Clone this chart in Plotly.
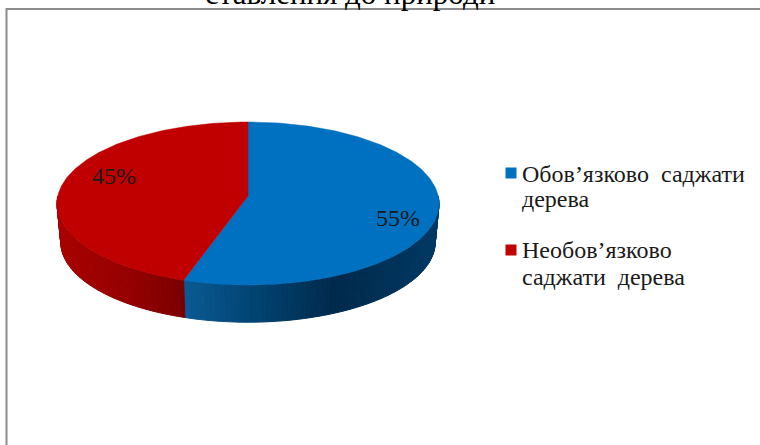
import numpy as np
import plotly.graph_objects as go

categories = [["Обов’язково&nbsp;&nbsp;саджати", "дерева"], ["Необов’язково", "саджати&nbsp;&nbsp;дерева"]]
shares = [55, 45]
colors = ["#0070c0", "#c00000"]
side_stops = [
    [(183, "#0b5a94"), (260, "#00426f"), (335, "#002a4c"), (400, "#00335a"), (440, "#003a66")],
    [(58, "#a80000"), (130, "#950000"), (183, "#7a0000")],
]
title_text = "ставлення до природи"

cx, cy = 248, 196
A, a, c = 190.2, 80.8, 0.092
depth = 39
shrink = 0.98


def project(t, s=1.0, dy=0):
    u, v = np.sin(t), np.cos(t)
    k = 1 + c * v
    return cx + s * A * u / k, cy - s * a * v / k + dy


def side_color(stops, x):
    xs = [p[0] for p in stops]
    rgb = [[int(p[1][i:i + 2], 16) for p in stops] for i in (1, 3, 5)]
    return "rgb(%d,%d,%d)" % tuple(np.interp(x, xs, ch) for ch in rgb)


fig = go.Figure()

# wedge limits, clockwise from the top
ends = np.cumsum(shares) / sum(shares) * 2 * np.pi
starts = np.r_[0, ends[:-1]]

# side wall first, strip by strip so the shading can run along it
for start, end, stops in zip(starts, ends, side_stops):
    lo, hi = max(start, np.pi / 2), min(end, 1.5 * np.pi)
    edges = np.linspace(lo, hi, int((hi - lo) * 40) + 2)
    for t0, t1 in zip(edges[:-1], edges[1:]):
        x0, y0 = project(t0)
        x1, y1 = project(t1)
        x2, y2 = project(t1, shrink, depth)
        x3, y3 = project(t0, shrink, depth)
        col = side_color(stops, (x0 + x1) / 2)
        fig.add_trace(go.Scatter(x=[x0, x1, x2, x3, x0], y=[y0, y1, y2, y3, y0],
                                 mode="lines", fill="toself", fillcolor=col,
                                 line=dict(color=col, width=1), hoverinfo="skip"))

# top face
for start, end, color in zip(starts, ends, colors):
    t = np.linspace(start, end, 200)
    xs, ys = project(t)
    fig.add_trace(go.Scatter(x=np.r_[cx, xs, cx], y=np.r_[cy, ys, cy],
                             mode="lines", fill="toself", fillcolor=color,
                             line=dict(color=color, width=0.5), hoverinfo="skip"))

# legend keys
fig.add_trace(go.Scatter(x=[511, 511], y=[173, 250], mode="markers",
                         marker=dict(symbol="square", size=11, color=colors), hoverinfo="skip"))

# frame, open at the bottom and right
fig.add_trace(go.Scatter(x=[6.5, 6.5, 760], y=[445, 9, 9], mode="lines",
                         line=dict(color="#8c8c8c", width=2), hoverinfo="skip"))

serif = '"Liberation Serif", "Times New Roman", "DejaVu Serif", serif'
fig.add_annotation(x=350, y=13, text=title_text, showarrow=False, yanchor="bottom",
                   font=dict(family=serif, size=31, color="#000000"))
fig.add_annotation(x=398, y=218, text=f"{shares[0]}%", showarrow=False,
                   font=dict(family=serif, size=24, color="#1a1a1a"))
fig.add_annotation(x=114, y=176, text=f"{shares[1]}%", showarrow=False,
                   font=dict(family=serif, size=24, color="#1a1a1a"))
# legend labels, one annotation per line since the spacing is tighter than the default
for line, y in zip(categories[0] + categories[1], [174, 199, 250, 277]):
    fig.add_annotation(x=520, y=y, text=line, showarrow=False, xanchor="left", align="left",
                       font=dict(family=serif, size=24, color="#1a1a1a"))

fig.update_layout(
    width=760, height=445, margin=dict(l=0, r=0, t=0, b=0),
    paper_bgcolor="white", plot_bgcolor="white", showlegend=False,
    xaxis=dict(range=[0, 760], visible=False, fixedrange=True),
    yaxis=dict(range=[445, 0], visible=False, fixedrange=True),
)

fig.write_html("out.html", config=dict(displayModeBar=False),
               post_script="document.body.style.margin='0';document.documentElement.style.overflow='hidden';")
